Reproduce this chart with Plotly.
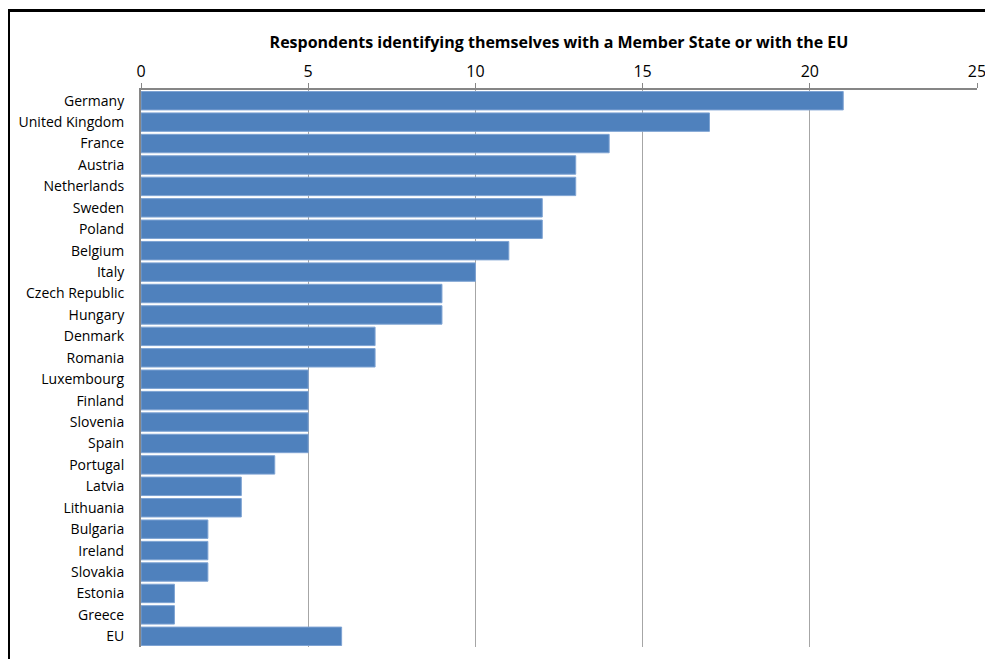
import plotly.graph_objects as go

countries = ["Germany", "United Kingdom", "France", "Austria", "Netherlands", "Sweden",
             "Poland", "Belgium", "Italy", "Czech Republic", "Hungary", "Denmark", "Romania",
             "Luxembourg", "Finland", "Slovenia", "Spain", "Portugal", "Latvia", "Lithuania",
             "Bulgaria", "Ireland", "Slovakia", "Estonia", "Greece", "EU"]
values = [21, 17, 14, 13, 13, 12, 12, 11, 10, 9, 9, 7, 7, 5, 5, 5, 5, 4, 3, 3, 2, 2, 2, 1, 1, 6]
tick_vals = [0, 5, 10, 15, 20, 25]
title_text = "Respondents identifying themselves with a Member State or with the EU"

font_family = "Open Sans, Liberation Sans, sans-serif"

fig = go.Figure(go.Bar(
    x=values, y=countries, orientation="h",
    marker=dict(color="#4F81BD", line=dict(color="#7EA3D3", width=1)),
))

# page body has an 8px default margin; compensate
OFF = 8
W, H = 993 - OFF, 659 - OFF
ml, mr, mt, mb = 141 - OFF, 16, 90 - OFF, 12
pw = W - ml - mr
ph = H - mt - mb

fig.update_layout(
    width=W, height=H,
    margin=dict(l=ml, r=mr, t=mt, b=mb, autoexpand=False),
    paper_bgcolor="white", plot_bgcolor="white",
    bargap=0.14,
    showlegend=False,
    font=dict(family=font_family, color="black"),
    title=dict(text="<b>" + title_text + "</b>", x=(559 - 141) / pw, xref="paper",
               xanchor="center", y=1 - (42 - OFF) / H, yanchor="middle",
               font=dict(size=16, family=font_family, color="black")),
    xaxis=dict(side="top", range=[0, 25], tickvals=tick_vals, automargin=False,
               showgrid=True, gridcolor="#A6A6A6", gridwidth=1,
               showline=True, linecolor="#868686", linewidth=2,
               ticks="outside", ticklen=5, tickcolor="#868686", tickwidth=1,
               tickfont=dict(size=16), zeroline=False, fixedrange=True),
    yaxis=dict(autorange="reversed", showline=True, linecolor="#868686", linewidth=2,
               ticks="", tickfont=dict(size=14), showgrid=False, fixedrange=True,
               ticklabelstandoff=12, automargin=False),
    shapes=[
        dict(type="line", xref="paper", yref="paper",
             x0=(0.5 - ml) / pw, x1=(0.5 - ml) / pw,
             y0=1 + (mt - 1) / ph, y1=-(mb + 5) / ph,
             line=dict(color="black", width=3)),
        dict(type="line", xref="paper", yref="paper",
             x0=(-1 - ml) / pw, x1=(W + 5 - ml) / pw,
             y0=1 + (mt - 2.5) / ph, y1=1 + (mt - 2.5) / ph,
             line=dict(color="black", width=3)),
    ],
)

fig.write_html("out.html")
